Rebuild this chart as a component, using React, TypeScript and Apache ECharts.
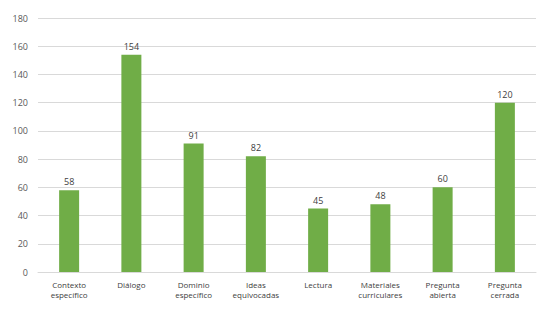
import React, { useEffect, useRef } from "react";
import * as echarts from "echarts";

const categories = [
  "Contexto\nespecífico",
  "Diálogo",
  "Dominio\nespecífico",
  "Ideas\nequivocadas",
  "Lectura",
  "Materiales\ncurriculares",
  "Pregunta\nabierta",
  "Pregunta\ncerrada",
];
const values = [58, 154, 91, 82, 45, 48, 60, 120];

export default function App() {
  const ref = useRef<HTMLDivElement>(null);
  useEffect(() => {
    if (!ref.current) return;
    const chart = echarts.init(ref.current, undefined, { renderer: "svg" });
    chart.setOption({
      animation: false,
      grid: { left: 38, right: 24, top: 18, bottom: 43, containLabel: false },
      xAxis: {
        type: "category",
        data: categories,
        axisLine: { lineStyle: { color: "#d9d9d9" } },
        axisTick: { show: false },
        axisLabel: {
          color: "#404040",
          fontSize: 8,
          fontFamily: "Open Sans",
          lineHeight: 10,
          margin: 7,
          interval: 0,
        },
      },
      yAxis: {
        type: "value",
        min: 0,
        max: 180,
        interval: 20,
        axisLine: { show: false },
        axisTick: { show: false },
        axisLabel: { color: "#595959", fontSize: 9, fontFamily: "Open Sans", margin: 10 },
        splitLine: { lineStyle: { color: "#d9d9d9" } },
      },
      series: [
        {
          type: "bar",
          data: values,
          barWidth: 20,
          itemStyle: { color: "#70ad47" },
          label: {
            show: true,
            position: "top",
            color: "#404040",
            fontSize: 9,
            fontFamily: "Open Sans",
            distance: 4,
          },
        },
      ],
    });
    return () => chart.dispose();
  }, []);
  return <div ref={ref} style={{ width: 560, height: 315, margin: -8 }} />;
}
